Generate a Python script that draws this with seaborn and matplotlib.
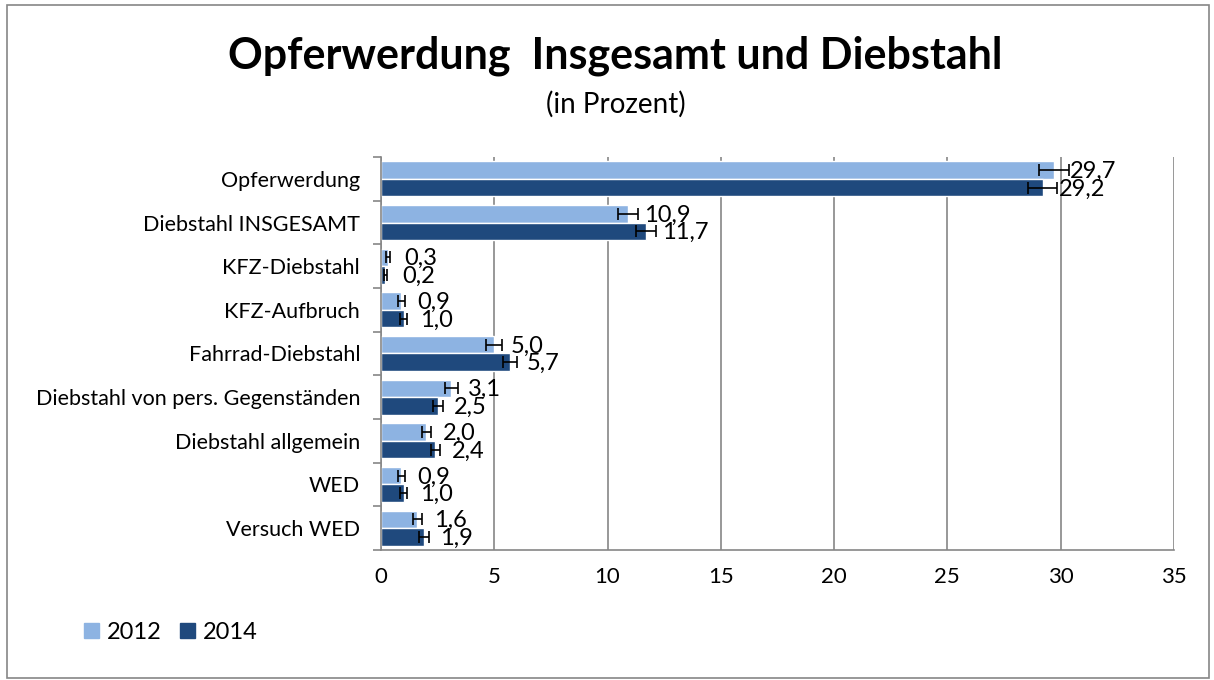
import numpy as np
import pandas as pd
import matplotlib.pyplot as plt
import seaborn as sns
from matplotlib.patches import Rectangle

# data
categories = ['Opferwerdung', 'Diebstahl INSGESAMT', 'KFZ-Diebstahl', 'KFZ-Aufbruch',
              'Fahrrad-Diebstahl', 'Diebstahl von pers. Gegenständen',
              'Diebstahl allgemein', 'WED', 'Versuch WED']
years = ['2012', '2014']
values_2012 = [29.7, 10.9, 0.3, 0.9, 5.0, 3.1, 2.0, 0.9, 1.6]
values_2014 = [29.2, 11.7, 0.2, 1.0, 5.7, 2.5, 2.4, 1.0, 1.9]
err_2012 = [0.65, 0.45, 0.08, 0.15, 0.35, 0.28, 0.2, 0.15, 0.2]
err_2014 = [0.65, 0.45, 0.07, 0.15, 0.3, 0.22, 0.2, 0.15, 0.2]

colors = ['#8DB3E2', '#1F497D']

df = pd.DataFrame({
    'Kategorie': categories * 2,
    'Jahr': [years[0]] * len(categories) + [years[1]] * len(categories),
    'Wert': values_2012 + values_2014,
})

sns.set_style('white')
plt.rcParams['font.family'] = ['Lato', 'DejaVu Sans']
plt.rcParams['text.color'] = 'black'
plt.rcParams['xtick.color'] = 'black'
plt.rcParams['ytick.color'] = 'black'

fig = plt.figure(figsize=(12.14, 6.80), dpi=100)
ax = fig.add_axes([0.3138, 0.1912, 0.6532, 0.5779])

sns.barplot(data=df, x='Wert', y='Kategorie', hue='Jahr', order=categories,
            hue_order=years, palette=colors, orient='h', width=0.8,
            errorbar=None, ax=ax, legend=False, saturation=1)

# error bars and value labels
for bars, vals, errs in zip(ax.containers, [values_2012, values_2014], [err_2012, err_2014]):
    for patch, v, e in zip(bars, vals, errs):
        yc = patch.get_y() + patch.get_height() / 2
        ax.errorbar(v, yc, xerr=e, fmt='none', ecolor='black', elinewidth=1.2,
                    capsize=4, capthick=1.2)
        ax.text(v + 0.72, yc + 0.03, f'{v:.1f}'.replace('.', ','), va='center',
                ha='left', fontsize=17)

ax.set_xlim(0, 35)
ax.set_ylim(len(categories) - 0.5, -0.5)
ax.set_xticks(np.arange(0, 36, 5))
ax.tick_params(axis='x', labelsize=16, length=0, pad=12)
ax.set_yticks(range(len(categories)))
ax.set_yticklabels(categories)
ax.tick_params(axis='y', which='major', labelsize=15.5, length=0, pad=15)
ax.set_yticks(np.arange(-0.5, len(categories), 1), minor=True)
ax.tick_params(axis='y', which='minor', length=6, width=1.2, color='#868686', left=True)
ax.set_xlabel('')
ax.set_ylabel('')
ax.xaxis.grid(True, color='#868686', linewidth=1.2)
ax.set_axisbelow(True)
for s in ['top', 'right']:
    ax.spines[s].set_visible(False)
for s in ['left', 'bottom']:
    ax.spines[s].set_color('#868686')
    ax.spines[s].set_linewidth(1.2)

# titles
fig.text(0.507, 0.918, 'Opferwerdung  Insgesamt und Diebstahl', ha='center', va='center',
         fontsize=31, fontweight='bold')
fig.text(0.507, 0.846, '(in Prozent)', ha='center', va='center', fontsize=20)

# legend
handles = [Rectangle((0, 0), 1, 1, color=c) for c in colors]
fig.legend(handles, years, loc='center left', bbox_to_anchor=(0.052, 0.07), ncol=2,
           frameon=False, fontsize=17, handlelength=0.6, handleheight=0.6,
           handletextpad=0.35, columnspacing=0.8)

# outer border
fig.patches.append(Rectangle((0.006, 0.003), 0.99, 0.99, transform=fig.transFigure,
                             fill=False, edgecolor='#868686', linewidth=1.2))

fig.savefig('out.png', dpi=100)
